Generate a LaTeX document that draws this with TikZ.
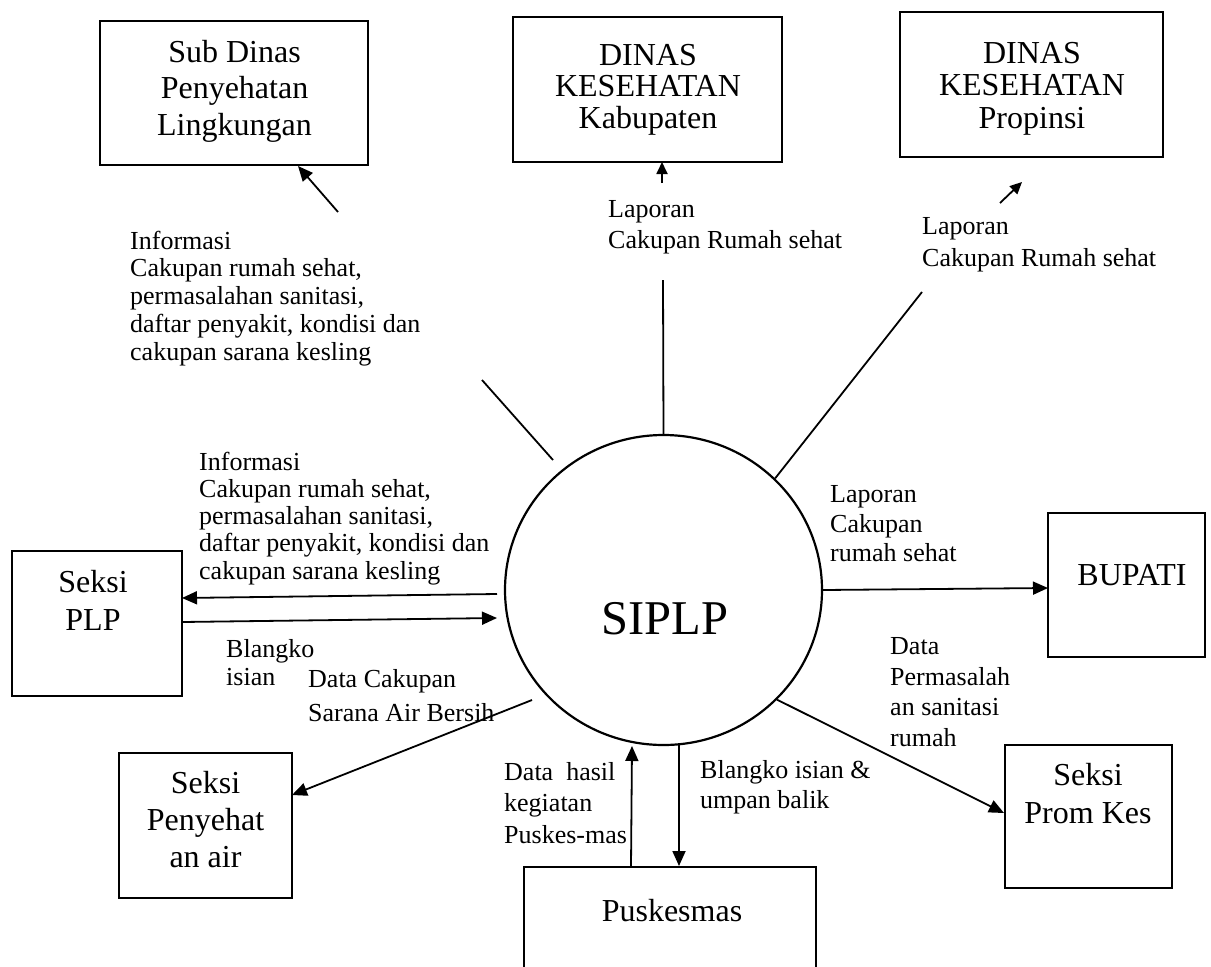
\documentclass[tikz,border=0pt]{standalone}
\usepackage{fontspec}
\setmainfont{Liberation Serif}
\usetikzlibrary{arrows.meta,shapes.geometric}

\begin{document}
\begin{tikzpicture}[x=1pt,y=-1pt,
  box/.style={draw, line width=1.8pt, inner sep=0pt},
  boxtext/.style={align=center, anchor=north, inner sep=0pt},
  lbl/.style={align=left, anchor=north west, inner sep=0pt},
  flow/.style={line width=1.8pt},
  flowarrow/.style={line width=1.8pt, -{Triangle[length=15pt,width=13pt]}},
  smallarrow/.style={line width=1.8pt, -{Triangle[length=12pt,width=11pt]}},
]
\clip (0,0) rectangle (1211,967);
\fill[white] (0,0) rectangle (1211,967);

% ---------- external entities ----------
\node[box, minimum width=268pt, minimum height=144pt] (sub)  at (234,93)    {};
\node[box, minimum width=269pt, minimum height=145pt] (kab)  at (647.5,89.5) {};
\node[box, minimum width=263pt, minimum height=145pt] (prop) at (1031.5,84.5) {};
\node[box, minimum width=170pt, minimum height=145pt] (plp)  at (97,623.5)  {};
\node[box, minimum width=157pt, minimum height=144pt] (bup)  at (1126.5,585) {};
\node[box, minimum width=173pt, minimum height=145pt] (air)  at (205.5,825.5) {};
\node[box, minimum width=167pt, minimum height=143pt] (prom) at (1088.5,816.5) {};
\node[box, minimum width=292pt, minimum height=140pt] (pusk) at (670,937)   {};

\node[boxtext, font=\fontsize{32}{36.7}\selectfont] (sub-t)  at (234.5,39.8)  {Sub Dinas\\Penyehatan\\Lingkungan};
\node[boxtext, font=\fontsize{32}{31.7}\selectfont] (kab-t)  at (648,43.8)    {DINAS\\KESEHATAN\\Kabupaten};
\node[boxtext, font=\fontsize{32}{32.5}\selectfont] (prop-t) at (1032,42.1)   {DINAS\\KESEHATAN\\Propinsi};
\node[boxtext, font=\fontsize{32}{38}\selectfont]   (plp-t)  at (93,569.8)    {Seksi\\PLP};
\node[boxtext, font=\fontsize{32}{37}\selectfont]   (air-t)  at (205.5,771.1) {Seksi\\Penyehat\\an air};
\node[boxtext, font=\fontsize{32}{38}\selectfont]   (prom-t) at (1088,763.1)  {Seksi\\Prom Kes};
\node[anchor=base, inner sep=0pt, font=\fontsize{32}{36}\selectfont] (bup-t)  at (1132,585)   {BUPATI};
\node[anchor=base, inner sep=0pt, font=\fontsize{32}{36}\selectfont] (pusk-t) at (672,921.7)  {Puskesmas};

% ---------- process ----------
\node[draw, ellipse, line width=2.2pt, minimum width=317pt, minimum height=310pt, inner sep=0pt] (siplp) at (663.5,590) {};
\node[anchor=base, inner sep=0pt, font=\fontsize{48.5}{50}\selectfont] (siplp-t) at (665,634) {SIPLP};

% ---------- free ends of the flows ----------
\coordinate (subA)  at (553,460);
\coordinate (subB)  at (482,380);
\coordinate (subC)  at (338,212);
\coordinate (subD)  at (298,166);
\coordinate (kabB)  at (663,280);
\coordinate (kabC)  at (662,183);
\coordinate (kabD)  at (662,162);
\coordinate (propB) at (922,292);
\coordinate (propC) at (1000,203);
\coordinate (propD) at (1022,182);
\coordinate (plpA)  at (497,594);
\coordinate (plpB)  at (182,598);
\coordinate (plpC)  at (182,622);
\coordinate (plpD)  at (497,618);
\coordinate (bupB)  at (1048,588);
\coordinate (promB) at (1004,813);
\coordinate (airA)  at (532,700);
\coordinate (airB)  at (292,795);
\coordinate (upA)   at (631,867);
\coordinate (upB)   at (632,746);
\coordinate (dnA)   at (679,745);
\coordinate (dnB)   at (679,866);

% ---------- flows ----------
\draw[flow] (subA) -- (subB);
\draw[flowarrow] (subC) -- (subD);
\draw[flow] (siplp.north) -- (kabB);
\draw[smallarrow] (kabC) -- (kabD);
\draw[flow] (siplp.45) -- (propB);
\draw[smallarrow] (propC) -- (propD);
\draw[flowarrow] (plpA) -- (plpB);
\draw[flowarrow] (plpC) -- (plpD);
\draw[flowarrow] (siplp.east) -- (bupB);
\draw[flowarrow] (siplp.-44) -- (promB);
\draw[flowarrow] (airA) -- (airB);
\draw[flowarrow] (upA) -- (upB);
\draw[flowarrow] (dnA) -- (dnB);

% ---------- flow labels ----------
\node[lbl, font=\fontsize{26}{27.9}\selectfont] (l-sub) at (130,230.5)
  {Informasi\\Cakupan rumah sehat,\\permasalahan sanitasi,\\daftar penyakit, kondisi dan\\cakupan sarana kesling};
\node[lbl, font=\fontsize{26}{31}\selectfont] (l-kab) at (608,200.5)
  {Laporan\\Cakupan Rumah sehat};
\node[lbl, font=\fontsize{26}{31.7}\selectfont] (l-prop) at (922,217.5)
  {Laporan\\Cakupan Rumah sehat};
\node[lbl, font=\fontsize{26}{27.2}\selectfont] (l-plp) at (199,451.7)
  {Informasi\\Cakupan rumah sehat,\\permasalahan sanitasi,\\daftar penyakit, kondisi dan\\cakupan sarana kesling};
\node[lbl, font=\fontsize{26}{28}\selectfont] (l-blk) at (226,639.2)
  {Blangko\\isian};
\node[lbl, font=\fontsize{26}{33.3}\selectfont] (l-air) at (308,669.5)
  {Data Cakupan\\Sarana Air Bersih};
\node[lbl, font=\fontsize{26}{29.3}\selectfont] (l-bup) at (830,485.5)
  {Laporan\\Cakupan\\rumah sehat};
\node[lbl, font=\fontsize{26}{30.5}\selectfont] (l-prom) at (890,637.5)
  {Data\\Permasalah\\an sanitasi\\rumah};
\node[lbl, font=\fontsize{26}{31.5}\selectfont] (l-up) at (504,762.2)
  {Data\ \ hasil\\kegiatan\\Puskes-mas};
\node[lbl, font=\fontsize{26}{30}\selectfont] (l-dn) at (700,760.2)
  {Blangko isian \&\\umpan balik};
\end{tikzpicture}
\end{document}
